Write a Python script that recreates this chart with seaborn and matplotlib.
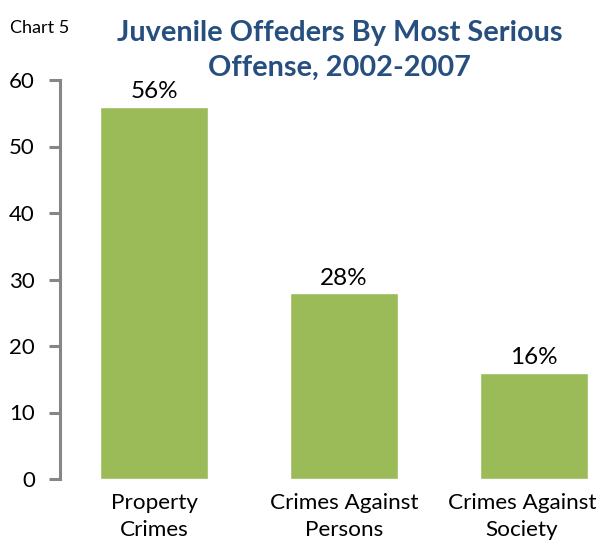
import matplotlib
matplotlib.use("Agg")
import matplotlib.pyplot as plt
import matplotlib.transforms as mtransforms
import seaborn as sns
import pandas as pd

categories = ["Property\nCrimes", "Crimes Against\nPersons", "Crimes Against\nSociety"]
shares = [56, 28, 16]
value_labels = ["56%", "28%", "16%"]
y_ticks = [0, 10, 20, 30, 40, 50, 60]

sns.set_theme(style="white")
plt.rcParams["font.family"] = ["Lato", "DejaVu Sans"]

df = pd.DataFrame({"category": categories, "share": shares})

fig = plt.figure(figsize=(6.07, 5.44), dpi=100)
ax = fig.add_axes([60 / 607, 65 / 544, 547 / 607, 399 / 544])

sns.barplot(data=df, x="category", y="share", color="#9BBB59",
            saturation=1, width=0.57, ax=ax)

for i, (v, lab) in enumerate(zip(shares, value_labels)):
    ax.annotate(lab, (i, v), xytext=(0, 3), textcoords="offset points",
                ha="center", va="bottom", fontsize=17.5, color="black")

ax.set_ylim(0, 60)
ax.set_xlim(-0.495, 2.385)
ax.set_yticks(y_ticks)
ax.set_xlabel("")
ax.set_ylabel("")

for side in ["top", "right", "bottom"]:
    ax.spines[side].set_visible(False)
ax.spines["left"].set_color("#868686")
ax.spines["left"].set_linewidth(2.2)

ax.tick_params(axis="y", direction="out", length=8, width=2.2, color="#868686",
               labelsize=16, labelcolor="black", left=True, pad=10)
ax.tick_params(axis="x", length=0, labelsize=16.2, labelcolor="black", pad=10)
xlabels = ax.get_xticklabels()
for t in xlabels:
    t.set_linespacing(1.45)
# keep the last category label inside the right edge of the figure
shift = mtransforms.ScaledTranslation(-12 / 100, 0, fig.dpi_scale_trans)
xlabels[-1].set_transform(xlabels[-1].get_transform() + shift)

fig.text(0.56, 0.94, "Juvenile Offeders By Most Serious", ha="center",
         va="center", fontsize=20.8, fontweight="bold", color="#264F80")
fig.text(0.56, 0.876, "Offense, 2002-2007", ha="center",
         va="center", fontsize=20.8, fontweight="bold", color="#264F80")
fig.text(0.017, 0.948, "Chart 5", ha="left", va="center", fontsize=13,
         color="black")

fig.savefig("out.png", dpi=100)
